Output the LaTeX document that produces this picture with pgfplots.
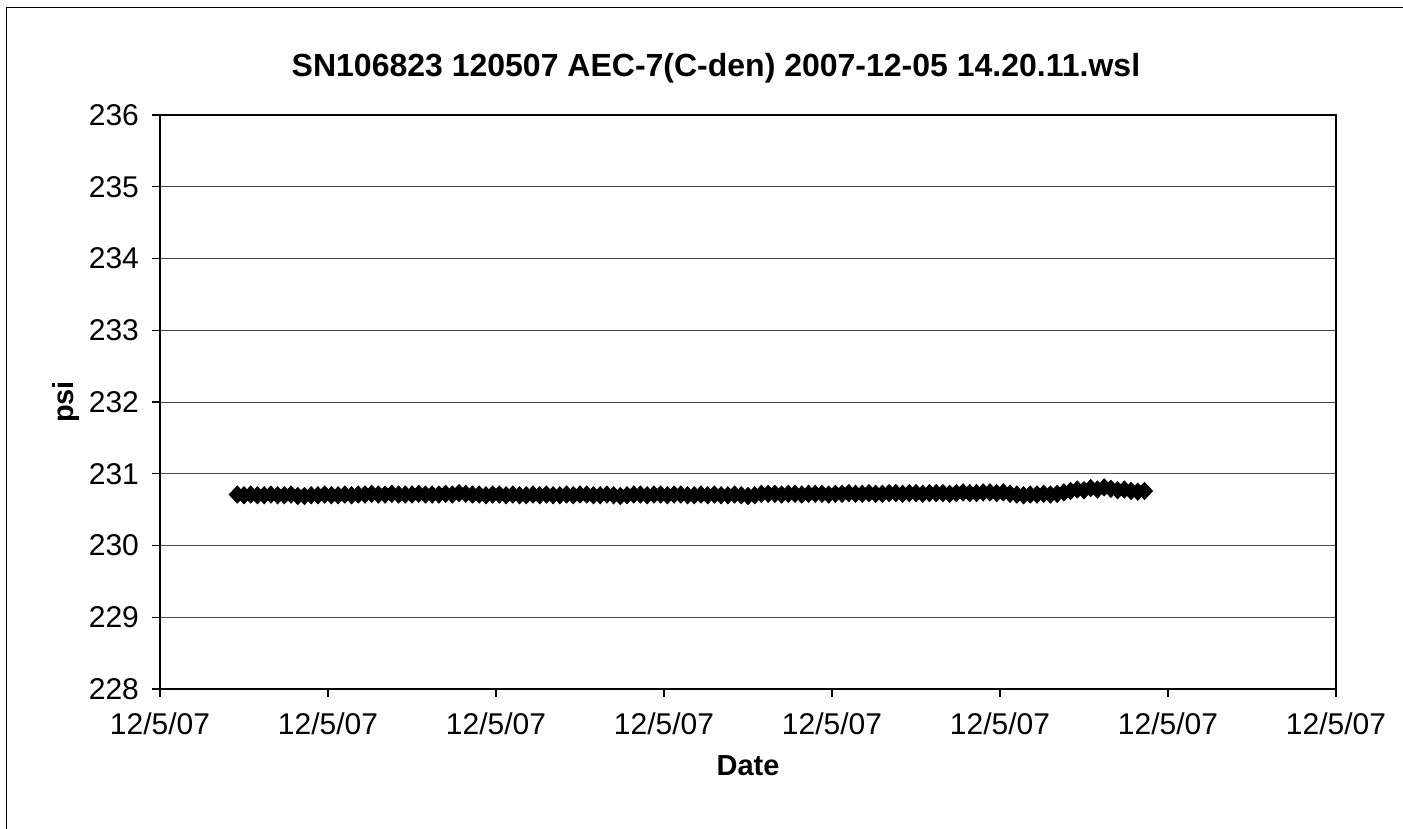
\documentclass[border=0pt]{standalone}
\usepackage{fontspec}
\setmainfont{Liberation Sans}
\usepackage{pgfplots}
\pgfplotsset{compat=1.18}
\usepackage{pgfplotstable}

\pgfplotstableread{
x y
0.46 230.71
0.50 230.70
0.54 230.71
0.58 230.70
0.62 230.70
0.66 230.71
0.70 230.70
0.74 230.70
0.78 230.71
0.82 230.69
0.86 230.69
0.90 230.70
0.94 230.70
0.98 230.71
1.02 230.70
1.06 230.70
1.10 230.71
1.14 230.70
1.18 230.71
1.22 230.71
1.26 230.72
1.30 230.71
1.34 230.71
1.38 230.72
1.42 230.71
1.46 230.71
1.50 230.71
1.54 230.72
1.58 230.71
1.62 230.71
1.66 230.71
1.70 230.72
1.74 230.71
1.78 230.73
1.82 230.72
1.86 230.71
1.90 230.71
1.94 230.70
1.98 230.71
2.02 230.71
2.06 230.70
2.10 230.71
2.14 230.70
2.18 230.70
2.22 230.71
2.26 230.70
2.30 230.71
2.34 230.70
2.38 230.70
2.42 230.71
2.46 230.70
2.50 230.71
2.54 230.71
2.58 230.70
2.62 230.70
2.66 230.71
2.70 230.70
2.74 230.69
2.78 230.70
2.82 230.71
2.86 230.71
2.90 230.70
2.94 230.71
2.98 230.71
3.02 230.70
3.06 230.71
3.10 230.71
3.14 230.70
3.18 230.70
3.22 230.71
3.26 230.70
3.30 230.71
3.34 230.70
3.38 230.70
3.42 230.71
3.46 230.70
3.50 230.69
3.54 230.70
3.58 230.72
3.62 230.72
3.66 230.72
3.70 230.71
3.74 230.72
3.78 230.72
3.82 230.71
3.86 230.72
3.90 230.72
3.94 230.72
3.98 230.71
4.02 230.72
4.06 230.72
4.10 230.73
4.14 230.72
4.18 230.72
4.22 230.73
4.26 230.72
4.30 230.72
4.34 230.73
4.38 230.73
4.42 230.72
4.46 230.73
4.50 230.73
4.54 230.72
4.58 230.73
4.62 230.73
4.66 230.73
4.70 230.72
4.74 230.73
4.78 230.74
4.82 230.73
4.86 230.73
4.90 230.74
4.94 230.74
4.98 230.73
5.02 230.74
5.06 230.72
5.10 230.71
5.14 230.70
5.18 230.71
5.22 230.71
5.26 230.72
5.30 230.71
5.34 230.72
5.38 230.74
5.42 230.76
5.46 230.78
5.50 230.77
5.54 230.80
5.58 230.78
5.62 230.81
5.66 230.79
5.70 230.77
5.74 230.78
5.78 230.76
5.82 230.75
5.86 230.76
}\psidata

\begin{document}
\begin{tikzpicture}
\begin{axis}[
    scale only axis,
    width=588pt, height=287pt,
    xmin=0, xmax=7, ymin=228, ymax=236,
    xtick={0,1,2,3,4,5,6,7},
    xticklabels={12/5/07,12/5/07,12/5/07,12/5/07,12/5/07,12/5/07,12/5/07,12/5/07},
    ytick={228,229,230,231,232,233,234,235,236},
    tick align=outside,
    major tick length=4pt,
    xtick pos=bottom, ytick pos=left,
    ymajorgrids,
    major grid style={gray!60!black, line width=0.4pt},
    axis line style={line width=0.9pt},
    tick style={black, line width=0.6pt},
    /pgf/number format/assume math mode=true,
    tick label style={font=\fontsize{15}{18}\selectfont},
    yticklabel style={xshift=-3pt},
    xticklabel style={yshift=-4.5pt},
    xlabel={\textbf{Date}},
    ylabel={\textbf{psi}},
    label style={font=\fontsize{14.5}{17}\selectfont},
    xlabel style={yshift=-3.5pt},
    ylabel style={yshift=-2pt},
    title={\textbf{SN106823 120507 AEC-7(C-den) 2007-12-05 14.20.11.wsl}},
    title style={font=\fontsize{16}{19}\selectfont, xshift=-16pt, yshift=6.5pt},
]
\addplot[only marks, mark=diamond*, mark size=4.3pt, mark options={xscale=1.25}, black] table[x=x, y=y] {\psidata};
\end{axis}
\path[use as bounding box] ([xshift=-80pt,yshift=-69.75pt]current axis.south west) rectangle ([xshift=33.5pt,yshift=57.5pt]current axis.north east);
\draw[line width=0.5pt] ([xshift=-76.5pt,yshift=-80pt]current axis.south west) -- ([xshift=-76.5pt,yshift=53.5pt]current axis.north west) -- ([xshift=40pt,yshift=53.5pt]current axis.north east);
\end{tikzpicture}
\end{document}
